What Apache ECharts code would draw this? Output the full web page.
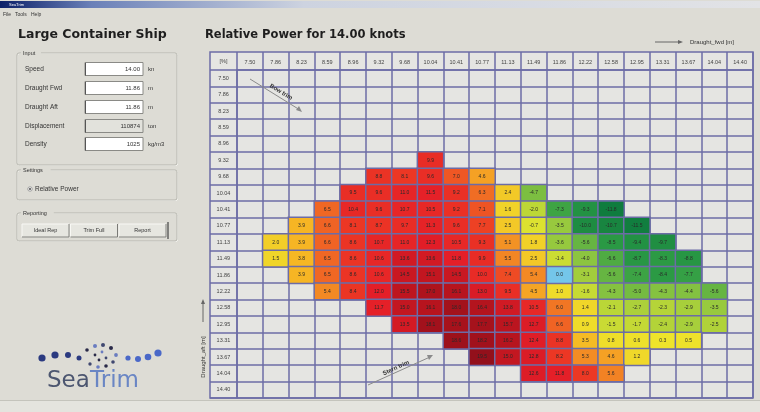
<!DOCTYPE html>
<html><head><meta charset="utf-8">
<script src="https://cdn.jsdelivr.net/npm/echarts@6/dist/echarts.min.js"></script>
<style>html,body{margin:0;padding:0;background:#dddcd5}#c{width:760px;height:412px}</style>
</head><body><div id="c"></div>
<script>
// ---- data ----
const draughtLabels = ['7.50','7.86','8.23','8.59','8.96','9.32','9.68','10.04','10.41','10.77','11.13','11.49','11.86','12.22','12.58','12.95','13.31','13.67','14.04','14.40'];
// first column index of each aft-draught row (null = empty row)
const rowFirstCol = [null,null,null,null,null,7,5,4,3,2,1,1,2,3,5,6,8,9,11,null];
const row05 = [9.9];
const row06 = [8.8, 8.1, 9.6, 7.0, 4.6];
const row07 = [9.5, 9.6, 11.0, 11.5, 9.2, 6.3, 2.4, -4.7];
const row08 = [6.5, 10.4, 9.6, 10.7, 10.5, 9.2, 7.1, 1.6, -2.0, -7.3, -9.3, -11.8];
const row09 = [3.9, 6.6, 8.1, 8.7, 9.7, 11.3, 9.6, 7.7, 2.5, -0.7, -3.5, -10.0, -10.7, -11.5];
const row10 = [2.0, 3.9, 6.6, 8.6, 10.7, 11.0, 12.3, 10.5, 9.3, 5.1, 1.8, -3.6, -5.6, -8.5, -9.4, -9.7];
const row11 = [1.5, 3.8, 6.5, 8.6, 10.6, 13.6, 13.6, 11.8, 9.9, 5.5, 2.5, -1.4, -4.0, -6.6, -8.7, -8.3, -8.8];
const row12 = [3.9, 6.5, 8.6, 10.6, 14.5, 15.1, 14.5, 10.0, 7.4, 5.4, 0.0, -3.1, -5.6, -7.4, -8.4, -7.7];
const row13 = [5.4, 8.4, 12.0, 15.5, 17.0, 16.1, 13.0, 9.5, 4.5, 1.0, -1.6, -4.3, -5.0, -4.3, -4.4, -5.6];
const row14 = [11.7, 15.0, 16.1, 18.0, 16.4, 13.8, 10.5, 6.0, 1.4, -2.1, -2.7, -2.3, -2.9, -3.5];
const row15 = [13.5, 18.1, 17.6, 17.7, 15.7, 12.7, 6.6, 0.9, -1.5, -1.7, -2.4, -2.9, -2.5];
const row16 = [18.6, 18.2, 16.2, 12.4, 8.8, 3.5, 0.8, 0.6, 0.3, 0.5];
const row17 = [19.5, 15.0, 12.8, 8.2, 5.3, 4.6, 1.2];
const row18 = [12.6, 11.8, 8.0, 5.6];
const powerRows = [[],[],[],[],[],row05,row06,row07,row08,row09,row10,row11,row12,row13,row14,row15,row16,row17,row18,[]];

const inputLabels = ['Speed','Draught Fwd','Draught Aft','Displacement','Density'];
const inputValues = ['14.00','11.86','11.86','110874','1025'];
const inputUnits  = ['kn','m','m','ton','kg/m3'];

// ---- build ----
const refCol = draughtLabels.indexOf(inputValues[1]);
const refRow = draughtLabels.indexOf(inputValues[2]);
const heatData = [], refData = [];
powerRows.forEach((vals, r) => {
  const s = rowFirstCol[r];
  vals.forEach((v, i) => {
    const c = s + i;
    if (c === refCol && r === refRow) refData.push([c, r, v]); else heatData.push([c, r, v]);
  });
});

const LINE = '#6c6ca6';
const BG = '#dddcd5';
const CELL = '#e5e5e2';
const SF = '"Liberation Sans", Arial, sans-serif';
const g = [];
function txt(x, y, t, o) {
  o = o || {};
  g.push({type:'text', z: o.z || 50, rotation: o.rot || 0, x: x, y: y,
    style:{text:t, x:0, y:0, fill:o.fill||'#333', textAlign:o.align||'left', textVerticalAlign:'middle',
      font:o.font||('6px '+SF)}});
}
function rect(x, y, w, h, o) {
  g.push({type:'rect', z:o.z||10, shape:{x:x,y:y,width:w,height:h,r:o.r||0},
    style:{fill:o.fill||'none', stroke:o.stroke||null, lineWidth:o.lw||1}});
}
function line(x1,y1,x2,y2,o){
  g.push({type:'line', z:o.z||60, shape:{x1:x1,y1:y1,x2:x2,y2:y2}, style:{stroke:o.stroke||'#555', lineWidth:o.lw||1}});
}
function poly(pts,o){ g.push({type:'polygon', z:o.z||60, shape:{points:pts}, style:{fill:o.fill||'#555'}}); }

// window chrome
g.push({type:'rect', z:5, shape:{x:0,y:1,width:760,height:7},
  style:{fill:new echarts.graphic.LinearGradient(0,0,1,0,[{offset:0,color:'#0c2068'},{offset:0.12,color:'#6a80b8'},{offset:0.4,color:'#cdd3e0'},{offset:1,color:'#e2e3e6'}])}});
txt(9, 4.5, 'SeaTrim', {fill:'#fff', font:'4px '+SF});
txt(3, 15, 'File', {font:'5px '+SF});
txt(15, 15, 'Tools', {font:'5px '+SF});
txt(31, 15, 'Help', {font:'5px '+SF});
rect(0, 400, 760, 12, {fill:'#e4e4de', z:4});
line(0, 400.5, 760, 400.5, {stroke:'#c4c4bc', z:5});

// left panel
txt(18, 35, 'Large Container Ship', {font:'bold 12.5px "DejaVu Sans", sans-serif', fill:'#1e1e1e'});
function groupBox(x,y,w,h,label){
  rect(x+0.5,y+0.5,w,h,{stroke:'#fafaf6',r:2});
  rect(x,y,w,h,{stroke:'#b4b4ac',r:2});
  const tw = label.length*3.2+4;
  rect(x+4,y-3,tw,6,{fill:BG, z:11});
  txt(x+6,y,label,{font:'5.5px '+SF});
}
groupBox(17,53,160,112,'Input');
const rowY = [69,88,107,126,144];
inputLabels.forEach((l,i)=>{
  const y = rowY[i];
  txt(25, y, l, {font:'6.5px '+SF});
  const dis = (i===3);
  rect(85, y-6.5, 58, 13, {fill: dis ? '#e2e2dc' : '#ffffff', stroke:'#8a8a86', z:12});
  line(85.5, y-6, 85.5, y+6.5, {stroke:'#555', z:13});
  txt(140, y, inputValues[i], {align:'right', font:'6px '+SF});
  txt(148, y, inputUnits[i], {font:'6px '+SF});
});
groupBox(17,170,160,30,'Settings');
g.push({type:'circle', z:20, shape:{cx:30,cy:189,r:2.2}, style:{fill:'#fff', stroke:'#888', lineWidth:0.8}});
g.push({type:'circle', z:21, shape:{cx:30,cy:189,r:0.9}, style:{fill:'#333'}});
txt(35, 189, 'Relative Power', {font:'6.5px '+SF});
groupBox(17,213,160,28,'Reporting');
const btns = ['Ideal Rep','Trim Full','Report'];
btns.forEach((b,i)=>{
  const bx = 22 + i*48.5;
  rect(bx, 224, 47, 13, {fill:'#e6e6e0', stroke:'#f8f8f4', z:12});
  line(bx+47, 224, bx+47, 237, {stroke:'#7a7a76', z:13});
  line(bx, 237, bx+47, 237, {stroke:'#7a7a76', z:13});
  txt(bx+23.5, 230.5, b, {align:'center', font:'5.5px '+SF});
});
line(168, 222, 168, 239, {stroke:'#444', lw:1.2, z:14});

// logo
const dotsL = [[42,358,3.6],[55,355,3.6],[68,355,3],[79,358,2.5]];
const dotsR = [[128,358,2.6],[138,359,3],[148,357,3.3],[158,353,3.6]];
const spiral = [[87,350,1.8],[95,346,2],[103,345,2],[111,348,2],[116,355,1.9],[113,362,1.8],[106,366,1.8],[98,367,1.8],[90,364,1.7],[95,355,1.4],[102,352,1.4],[106,358,1.4],[99,360,1.4]];
dotsL.forEach(d=>g.push({type:'circle',z:20,shape:{cx:d[0],cy:d[1],r:d[2]},style:{fill:'#2b3a80'}}));
dotsR.forEach(d=>g.push({type:'circle',z:20,shape:{cx:d[0],cy:d[1],r:d[2]},style:{fill:'#4a68c8'}}));
spiral.forEach((d,i)=>g.push({type:'circle',z:20,shape:{cx:d[0],cy:d[1],r:d[2]},style:{fill: i%3===0 ? '#2a2a48' : (i%3===1 ? '#6a7cc0' : '#404870')}}));
txt(47, 381, 'Sea', {font:'23px "DejaVu Sans", sans-serif', fill:'#4c5670'});
txt(90, 381, 'Trim', {font:'23px "DejaVu Sans", sans-serif', fill:'#6a86c4'});

// right side texts
txt(205, 35, 'Relative Power for ' + inputValues[0] + ' knots', {font:'bold 11.5px "DejaVu Sans", sans-serif', fill:'#1e1e1e'});
line(655, 42, 680, 42, {stroke:'#666', z:20});
poly([[683,42],[678,40],[678,44]], {fill:'#666', z:20});
txt(690, 42, 'Draught_fwd [m]', {font:'6px '+SF, fill:'#333'});
txt(203, 357, 'Draught_aft [m]', {font:'6px '+SF, fill:'#333', rot:Math.PI/2, align:'center'});
line(203, 322, 203, 302, {stroke:'#666', z:20});
poly([[203,299],[201,304],[205,304]], {fill:'#666', z:20});

// table frame
rect(210, 52, 543, 346, {fill:CELL, z:-10});
rect(210, 52, 543, 346, {stroke:LINE, lw:1.5, z:90});
txt(223.5, 61, '[%]', {align:'center', font:'5.5px '+SF, fill:'#444'});

// trim annotations
line(250, 79, 300, 110, {stroke:'#8a8a8a', lw:1, z:95});
poly([[302,112],[296,110],[299,106]], {fill:'#8a8a8a', z:95});
txt(281, 92, 'Bow trim', {font:'bold 6px '+SF, fill:'#333', rot:-0.55, align:'center', z:96});
line(368, 385, 430, 357, {stroke:'#8a8a8a', lw:1, z:95});
poly([[433,355],[427,355],[429,360]], {fill:'#8a8a8a', z:95});
txt(396, 368, 'Stern trim', {font:'bold 6px '+SF, fill:'#333', rot:0.43, align:'center', z:96});

const axisCommon = {
  type:'category', data: draughtLabels,
  axisLine:{show:true, lineStyle:{color:LINE, width:1.5}},
  splitLine:{show:true, interval:0, lineStyle:{color:LINE, width:1.5}},
  splitArea:{show:false}
};

const option = {
  backgroundColor: BG,
  animation: false,
  grid: {left:237, top:70, width:516, height:328, containLabel:false},
  xAxis: Object.assign({}, axisCommon, {
    position:'top',
    axisTick:{show:true, interval:0, length:18, lineStyle:{color:LINE, width:1.5}},
    axisLabel:{interval:0, fontSize:5.5, color:'#444', margin:5, fontFamily:'Liberation Sans'}
  }),
  yAxis: Object.assign({}, axisCommon, {
    inverse:true, position:'left',
    axisTick:{show:true, interval:0, length:27, lineStyle:{color:LINE, width:1.5}},
    axisLabel:{interval:0, fontSize:5.5, color:'#444', margin:13.5, align:'center', fontFamily:'Liberation Sans'}
  }),
  visualMap: {
    show:false, type:'continuous', seriesIndex:0, dimension:2, min:-12, max:20,
    inRange:{color:['#0d7a3e','#2e9d45','#8cc540','#ede82c','#f6b424','#ec3824','#e41e28','#b8141e','#8e0f1a']}
  },
  series: [
    {type:'heatmap', data: heatData, z:2,
     itemStyle:{borderColor:LINE, borderWidth:1.5},
     label:{show:true, fontSize:5, color:'#2a2a2a', fontFamily:'Liberation Sans', formatter:p=>p.value[2].toFixed(1)}},
    {type:'heatmap', data: refData, z:3,
     itemStyle:{color:'#74c6ea', borderColor:LINE, borderWidth:1.5},
     label:{show:true, fontSize:5, color:'#2a2a2a', fontFamily:'Liberation Sans', formatter:p=>p.value[2].toFixed(1)}}
  ],
  graphic: {elements: g}
};
const chart = echarts.init(document.getElementById('c'), null, {renderer:'canvas'});
chart.setOption(option);
</script></body></html>
